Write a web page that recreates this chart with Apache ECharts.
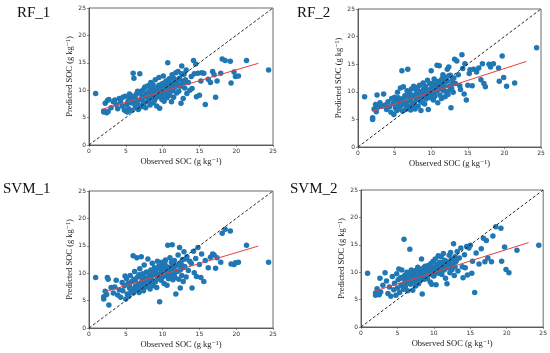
<!DOCTYPE html>
<html><head><meta charset="utf-8">
<script src="https://cdn.jsdelivr.net/npm/echarts@6/dist/echarts.min.js"></script>
<style>html,body{margin:0;padding:0;background:#fff}#c{width:550px;height:353px}</style>
</head><body><div id="c"></div>
<script>
// Observed SOC (shared validation set), grouped by tens
const observed = [
  0.9, 2.0, 2.0, 2.2, 2.4, 2.5, 2.6, 2.7, 3.0, 3.3,
  3.5, 3.7, 3.9, 4.1, 4.3, 4.5, 4.6, 4.8, 4.9, 5.0,
  5.1, 5.2, 5.3, 5.4, 5.5, 5.6, 5.7, 5.8, 5.9, 6.0,
  6.0, 6.1, 6.2, 6.3, 6.4, 6.5, 6.6, 6.7, 6.8, 6.9,
  7.0, 7.1, 7.2, 7.3, 7.4, 7.5, 7.6, 7.7, 7.8, 7.9,
  8.0, 8.1, 8.2, 8.3, 8.4, 8.5, 8.6, 8.7, 8.8, 8.9,
  9.0, 9.1, 9.2, 9.3, 9.4, 9.5, 9.6, 9.7, 9.8, 9.9,
  10.0, 10.1, 10.2, 10.3, 10.4, 10.5, 10.6, 10.7, 10.8, 10.9,
  11.0, 11.1, 11.2, 11.3, 11.4, 11.5, 11.6, 11.7, 11.8, 11.9,
  12.0, 12.1, 12.2, 12.3, 12.4, 12.5, 12.6, 12.7, 12.8, 12.9,
  13.0, 13.2, 13.3, 13.5, 13.7, 13.9, 14.0, 14.2, 14.3, 14.5,
  14.6, 14.8, 15.0, 15.2, 15.3, 15.6, 15.8, 16.2, 16.5, 16.8,
  17.0, 17.2, 17.4, 17.9, 18.1, 18.5, 19.2, 19.3, 19.7, 19.9,
  20.3, 21.4, 24.4,
  6.3, 6.8, 7.2, 7.6, 8.1, 8.4, 8.7, 9.0, 9.3, 9.6,
  9.8, 10.1, 10.4, 10.6, 10.9, 11.2, 11.5, 11.8, 12.2, 12.6,
  7.0, 7.9, 8.5, 9.2, 9.9, 10.3, 10.8, 11.3, 12.4, 13.1,
  5.5, 6.6, 7.4, 8.2, 8.9, 9.5, 10.0, 10.7, 11.6, 12.9
];
const predictedRF1 = [
  9.4, 6.2, 6.0, 7.6, 5.9, 8.1, 6.1, 8.3, 6.8, 7.9,
  8.2, 7.4, 6.6, 8.5, 7.9, 7.1, 8.7, 6.4, 8.9, 6.2,
  7.3, 6.0, 8.0, 6.6, 8.6, 7.7, 9.0, 6.3, 8.4, 13.1,
  7.6, 12.2, 8.8, 6.9, 9.2, 7.8, 8.1, 6.5, 9.6, 13.0,
  8.3, 7.0, 9.9, 8.6, 7.4, 10.3, 8.9, 6.8, 9.4, 7.9,
  10.8, 8.2, 9.1, 7.3, 11.4, 8.7, 9.6, 7.7, 10.1, 8.4,
  11.9, 9.0, 7.1, 10.5, 8.8, 12.3, 6.7, 9.8, 11.0, 8.3,
  9.4, 12.6, 8.0, 10.9, 9.9, 11.7, 8.6, 15.0, 10.3, 12.1,
  9.1, 11.3, 7.9, 12.8, 10.0, 8.7, 11.9, 10.6, 13.2, 9.5,
  11.1, 13.4, 9.8, 12.2, 10.7, 7.6, 14.4, 11.6, 8.5, 12.9,
  10.4, 13.7, 9.4, 11.4, 10.0, 12.5, 10.3, 15.4, 13.0, 14.8,
  8.8, 13.1, 9.1, 11.7, 13.2, 13.1, 7.4, 12.0, 11.4, 13.4,
  12.8, 8.7, 11.7, 13.1, 15.7, 15.4, 15.3, 11.3, 13.3, 12.5,
  12.6, 15.4, 13.7,
  8.4, 7.2, 9.0, 10.6, 8.0, 9.3, 11.0, 8.5, 9.7, 10.2,
  9.0, 10.7, 11.5, 9.6, 11.0, 10.4, 12.2, 11.3, 12.0, 13.0,
  9.5, 8.8, 10.4, 9.4, 10.8, 8.9, 11.8, 9.9, 10.9, 11.9,
  9.3, 9.8, 7.8, 9.9, 8.1, 10.9, 11.2, 10.0, 11.0, 11.4
];
const predictedRF2 = [
  9.1, 5.3, 5.0, 6.9, 7.7, 6.4, 9.4, 7.2, 8.0, 7.4,
  9.6, 7.6, 6.8, 8.2, 7.3, 6.3, 8.8, 7.9, 5.9, 9.0,
  7.1, 8.5, 6.6, 9.9, 7.8, 6.9, 8.3, 10.7, 7.5, 13.8,
  8.7, 6.5, 10.9, 7.9, 9.3, 6.8, 8.1, 10.2, 14.1, 7.3,
  9.8, 8.4, 6.7, 10.5, 7.7, 9.1, 11.0, 8.0, 6.9, 9.5,
  8.6, 10.8, 7.4, 9.7, 11.2, 8.3, 6.6, 10.1, 9.0, 11.6,
  9.4, 7.8, 11.0, 8.7, 10.4, 12.1, 6.8, 9.9, 11.5, 8.9,
  13.8, 9.6, 10.7, 8.5, 12.3, 9.2, 11.4, 10.1, 14.8, 8.0,
  10.9, 14.7, 9.4, 12.0, 8.8, 11.3, 13.1, 10.2, 11.7, 9.1,
  12.6, 10.0, 14.1, 9.5, 14.5, 11.0, 13.0, 7.1, 10.6, 12.2,
  9.9, 15.9, 11.5, 15.6, 13.1, 11.1, 10.4, 16.7, 14.2, 9.6,
  15.1, 8.5, 11.2, 13.3, 14.0, 11.1, 14.1, 13.6, 14.3, 12.2,
  15.1, 11.5, 10.9, 15.0, 14.5, 15.1, 14.3, 11.9, 16.5, 12.6,
  11.0, 11.6, 18.0,
  8.9, 9.5, 8.8, 7.3, 9.2, 10.0, 8.1, 10.6, 9.6, 10.3,
  10.0, 11.1, 9.9, 10.9, 11.8, 10.5, 12.4, 11.0, 11.9, 10.4,
  8.7, 10.4, 9.4, 10.1, 9.3, 11.6, 10.3, 11.8, 12.9, 12.5,
  8.9, 7.6, 9.4, 8.8, 10.2, 9.2, 10.5, 11.9, 10.8, 11.4
];
const predictedSVM1 = [
  9.2, 5.7, 5.3, 6.7, 6.1, 9.2, 8.9, 4.2, 7.4, 6.4,
  7.5, 8.7, 6.0, 7.0, 5.6, 8.3, 6.8, 7.7, 9.5, 5.3,
  9.0, 6.2, 8.1, 5.8, 7.3, 9.6, 6.6, 8.5, 7.1, 13.2,
  6.4, 8.9, 10.3, 7.6, 6.9, 12.8, 9.3, 8.0, 6.5, 10.8,
  7.2, 13.0, 8.6, 9.9, 6.8, 11.5, 8.2, 7.5, 10.2, 9.1,
  12.6, 8.0, 9.4, 7.1, 10.6, 8.8, 11.8, 7.7, 9.7, 11.0,
  8.4, 10.1, 7.4, 12.2, 9.0, 11.3, 4.8, 10.7, 8.7, 12.0,
  9.3, 11.6, 8.1, 10.4, 12.4, 9.8, 7.8, 15.1, 11.1, 10.0,
  12.8, 9.5, 11.0, 15.2, 8.8, 10.6, 12.3, 9.2, 6.2, 11.4,
  10.3, 13.3, 8.9, 14.7, 7.3, 11.8, 9.6, 12.5, 8.5, 13.9,
  11.2, 9.3, 13.0, 10.5, 12.2, 11.8, 7.3, 14.0, 10.1, 12.7,
  9.4, 14.7, 11.6, 9.2, 13.5, 8.5, 12.3, 11.0, 12.9, 13.5,
  13.3, 10.9, 12.8, 12.0, 17.3, 18.0, 17.7, 11.7, 11.6, 11.9,
  12.0, 15.1, 12.0,
  8.6, 9.7, 7.9, 8.9, 10.1, 9.1, 8.3, 10.5, 9.6, 11.1,
  9.9, 10.8, 11.3, 9.5, 10.7, 12.0, 11.2, 10.4, 11.6, 10.9,
  9.4, 8.4, 10.0, 9.6, 10.5, 11.9, 9.0, 11.9, 10.6, 12.6,
  8.0, 7.3, 9.5, 9.2, 10.9, 9.8, 11.4, 10.2, 10.0, 11.1
];
const predictedSVM2 = [
  9.8, 6.2, 5.8, 7.0, 6.5, 5.9, 8.9, 6.4, 7.6, 9.9,
  8.4, 6.1, 7.3, 5.6, 9.2, 6.8, 8.0, 5.8, 9.7, 7.1,
  8.6, 10.6, 6.3, 8.9, 7.6, 10.4, 9.1, 6.9, 16.0, 8.2,
  9.4, 7.4, 8.7, 10.0, 6.6, 9.6, 8.1, 14.2, 7.8, 10.4,
  8.9, 6.7, 9.9, 8.3, 10.2, 7.5, 9.3, 8.6, 10.9, 7.9,
  9.7, 8.4, 10.5, 12.4, 6.0, 9.0, 10.8, 8.7, 11.1, 9.5,
  10.3, 8.8, 11.2, 9.6, 10.7, 8.2, 11.6, 7.8, 10.0, 12.0,
  9.3, 10.9, 12.4, 7.7, 11.4, 10.1, 13.0, 9.8, 11.8, 10.6,
  12.8, 9.6, 11.1, 13.4, 10.4, 12.2, 8.9, 11.5, 7.9, 10.8,
  11.7, 13.1, 9.9, 13.6, 12.4, 10.5, 11.3, 15.2, 9.4, 12.8,
  11.9, 13.8, 10.2, 12.6, 14.4, 11.0, 9.0, 13.2, 10.8, 14.7,
  9.5, 14.4, 14.9, 9.8, 12.0, 6.3, 13.5, 11.5, 14.3, 16.2,
  11.9, 15.8, 12.6, 11.9, 16.6, 18.3, 18.0, 12.0, 14.6, 10.5,
  9.9, 14.0, 14.9,
  9.1, 8.5, 9.5, 10.4, 9.8, 8.9, 10.2, 9.4, 10.6, 10.0,
  10.9, 9.7, 10.4, 11.2, 10.0, 11.5, 10.7, 11.9, 11.0, 12.0,
  9.6, 9.2, 9.9, 10.1, 9.4, 11.0, 10.5, 11.8, 10.8, 12.2,
  9.0, 8.8, 9.0, 9.3, 9.8, 10.4, 10.2, 11.3, 11.4, 11.0
];
// Fitted regression lines (end points) and 1:1 line
const fitX = [2, 23];
const fitRF1 = [6.6, 14.9];
const fitRF2 = [6.5, 15.5];
const fitSVM1 = [6.55, 14.95];
const fitSVM2 = [6.6, 15.4];
const oneToOne = [0, 25];
const axisTicks = [0, 5, 10, 15, 20, 25];
const panelTitles = ['RF_1', 'RF_2', 'SVM_1', 'SVM_2'];
const xAxisName = 'Observed SOC (g kg\u207B\u00B9)';
const yAxisName = 'Predicted SOC (g kg\u207B\u00B9)';

const panels = [
  {pred: predictedRF1, fit: fitRF1},
  {pred: predictedRF2, fit: fitRF2},
  {pred: predictedSVM1, fit: fitSVM1},
  {pred: predictedSVM2, fit: fitSVM2}
];
const grids = [
  {left: 89, top: 8, width: 184, height: 137},
  {left: 358, top: 9, width: 183, height: 138},
  {left: 89, top: 191, width: 184, height: 137},
  {left: 361, top: 190, width: 183, height: 137}
];
const titlePos = [[17, 15], [297, 15], [3, 191], [290, 191]];

const serif = '"Liberation Serif", "DejaVu Serif", serif';
const axisCommon = (i, isX) => ({
  type: 'value', gridIndex: i,
  min: axisTicks[0], max: axisTicks[axisTicks.length - 1], interval: axisTicks[1] - axisTicks[0],
  name: isX ? xAxisName : yAxisName,
  nameLocation: 'middle',
  nameGap: isX ? 12 : 14,
  nameTextStyle: {fontFamily: serif, fontSize: 8.5, color: '#222'},
  axisLine: {show: true, lineStyle: {color: '#444', width: 0.8}},
  axisTick: {show: true, length: 2, lineStyle: {color: '#444', width: 0.6}},
  axisLabel: {fontSize: 6, color: '#333', margin: 3, fontFamily: '"DejaVu Sans", sans-serif'},
  splitLine: {show: false}
});

const series = [];
panels.forEach((p, i) => {
  series.push({
    type: 'scatter', xAxisIndex: i, yAxisIndex: i,
    symbolSize: 5.5,
    itemStyle: {color: '#1f77b4', opacity: 1},
    data: observed.map((x, k) => [x, p.pred[k]])
  });
  series.push({
    type: 'line', xAxisIndex: i, yAxisIndex: i, showSymbol: false, silent: true,
    lineStyle: {color: '#e8403f', width: 1},
    data: fitX.map((x, k) => [x, p.fit[k]])
  });
  series.push({
    type: 'line', xAxisIndex: i, yAxisIndex: i, showSymbol: false, silent: true,
    lineStyle: {color: '#111', width: 0.9, type: [3, 2]},
    data: oneToOne.map(v => [v, v])
  });
});

const chart = echarts.init(document.getElementById('c'), null, {renderer: 'canvas'});
chart.setOption({
  animation: false,
  backgroundColor: '#fff',
  grid: grids.map(g => Object.assign({show: true, borderColor: '#444', borderWidth: 0.8, containLabel: false}, g)),
  xAxis: grids.map((g, i) => axisCommon(i, true)),
  yAxis: grids.map((g, i) => axisCommon(i, false)),
  graphic: panelTitles.map((t, i) => ({
    type: 'text', left: titlePos[i][0], top: titlePos[i][1] - 9,
    style: {text: t, fontFamily: serif, fontSize: 15, fill: '#111'}
  })),
  series: series
});
</script></body></html>
